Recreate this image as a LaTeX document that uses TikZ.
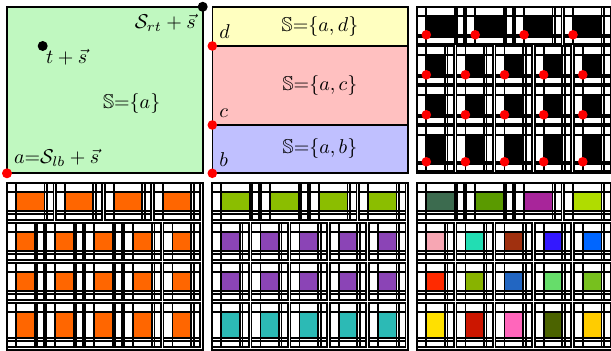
\documentclass[tikz,border=0pt]{standalone}
\usepackage{amssymb}

\definecolor{cellgreen}{HTML}{C0F8C0}
\definecolor{cellyellow}{HTML}{FFFFC0}
\definecolor{cellpink}{HTML}{FFC0C0}
\definecolor{cellblue}{HTML}{C0C0FF}
\definecolor{tangerine}{HTML}{FF6600}
\definecolor{olivelime}{HTML}{8BBE00}
\definecolor{violet}{HTML}{8B44B6}
\definecolor{teal}{HTML}{2CBAB5}
% colours of the last panel, row by row
\definecolor{ta}{HTML}{3C6B4F}\definecolor{tb}{HTML}{5A9A00}
\definecolor{tc}{HTML}{A8259A}\definecolor{td}{HTML}{B0DC00}
\definecolor{ua}{HTML}{F7A6B3}\definecolor{ub}{HTML}{22DDB3}
\definecolor{uc}{HTML}{A0300F}\definecolor{ud}{HTML}{3318FF}
\definecolor{ue}{HTML}{0066FF}
\definecolor{va}{HTML}{FF2A00}\definecolor{vb}{HTML}{88B300}
\definecolor{vc}{HTML}{2266C2}\definecolor{vd}{HTML}{66DD6A}
\definecolor{ve}{HTML}{77C01E}
\definecolor{wa}{HTML}{FFE000}\definecolor{wb}{HTML}{CC1600}
\definecolor{wc}{HTML}{FF66BB}\definecolor{wd}{HTML}{4B6300}
\definecolor{we}{HTML}{FFCC00}

\tikzset{
  gridline/.style={line width=0.9pt},
  frame/.style={line width=0.8pt},
  lbl/.style={font=\normalsize}
}

% one tile: x, y, width, height, fill colour
\newcommand{\gtile}[5]{%
  \fill[#5] ({#1+9},{#2+9}) rectangle ({#1+#3-11.5},{#2+#4-11.5});
  \draw[gridline] ({#1},{#2}) rectangle ({#1+#3-2.5},{#2+#4-2.5})
    ({#1+9},{#2}) -- ++(0,{#4-2.5})
    ({#1+#3-11.5},{#2}) -- ++(0,{#4-2.5})
    ({#1+#3-9},{#2}) -- ++(0,{#4-2.5})
    ({#1},{#2+9}) -- ++({#3-2.5},0)
    ({#1},{#2+#4-11.5}) -- ++({#3-2.5},0)
    ({#1},{#2+#4-9}) -- ++({#3-2.5},0);
}
% a row of tiles: panel x, row y, height, count, colours
\newcommand{\tilerow}[5]{%
  \pgfmathsetmacro\tw{195.6/#4}
  \foreach \c [count=\k from 0] in {#5} {\gtile{#1+\k*\tw}{#2}{\tw}{#3}{\c}}
}
% a whole panel: x, y, colours of rows 1-4
\newcommand{\gridpanel}[6]{%
  \tilerow{#1}{#2}{39.5}{4}{#3}
  \tilerow{#1}{#2+39.5}{40}{5}{#4}
  \tilerow{#1}{#2+79.5}{40}{5}{#5}
  \tilerow{#1}{#2+119.5}{47}{5}{#6}
  \draw[gridline] ({#1},{#2}) rectangle ++(195.6,166.5);
}

\begin{document}
\begin{tikzpicture}[x=0.5pt,y=-0.5pt]
  \useasboundingbox (0,0) rectangle (611,351);

  % first panel
  \filldraw[frame,fill=cellgreen] (7,6.8) rectangle (202.7,173.3);
  \coordinate (rt) at (202.7,6.8);
  \coordinate (t) at (42.7,46);
  \coordinate (a) at (7,173.3);
  \node[lbl,anchor=north east] (rtlabel) at (rt) {$\mathcal{S}_{rt}+\vec{s}$};
  \node[lbl,anchor=north west,inner sep=1.5pt] (tlabel) at (t) {$t+\vec{s}$};
  \node[lbl] (setA) at (131.7,104) {$\mathbb{S}{=}\{a\}$};
  \node[lbl,anchor=south west] (alabel) at (a) {$a{=}\mathcal{S}_{lb}+\vec{s}$};

  % second panel
  \filldraw[frame,fill=cellyellow] (212.3,6.8) rectangle (407.9,46);
  \filldraw[frame,fill=cellpink] (212.3,46) rectangle (407.9,125);
  \filldraw[frame,fill=cellblue] (212.3,125) rectangle (407.9,173.3);
  \coordinate (d) at (212.3,46);
  \coordinate (c) at (212.3,125);
  \coordinate (b) at (212.3,173.3);
  \node[lbl] (setD) at (320,26.4) {$\mathbb{S}{=}\{a,d\}$};
  \node[lbl] (setC) at (320,85.5) {$\mathbb{S}{=}\{a,c\}$};
  \node[lbl] (setB) at (320,149) {$\mathbb{S}{=}\{a,b\}$};
  \node[lbl,anchor=south west] (dlabel) at (d) {$d$};
  \node[lbl,anchor=south west] (clabel) at (c) {$c$};
  \node[lbl,anchor=south west] (blabel) at (b) {$b$};

  % third panel
  \gridpanel{417.3}{6.8}{black,black,black,black}{black,black,black,black,black}
    {black,black,black,black,black}{black,black,black,black,black}
  \foreach \r/\h/\n in {0/39.5/4,39.5/40/5,79.5/40/5,119.5/47/5} {
    \pgfmathsetmacro\tw{195.6/\n}
    \foreach \k in {1,...,\n}
      \fill[red] ({417.3+(\k-1)*\tw+9},{6.8+\r+\h-11.5}) circle[radius=2.4pt];
  }

  % bottom row of panels
  \gridpanel{7}{183.3}{tangerine,tangerine,tangerine,tangerine}
    {tangerine,tangerine,tangerine,tangerine,tangerine}
    {tangerine,tangerine,tangerine,tangerine,tangerine}
    {tangerine,tangerine,tangerine,tangerine,tangerine}
  \gridpanel{212.3}{183.3}{olivelime,olivelime,olivelime,olivelime}
    {violet,violet,violet,violet,violet}
    {violet,violet,violet,violet,violet}
    {teal,teal,teal,teal,teal}
  \gridpanel{417.3}{183.3}{ta,tb,tc,td}{ua,ub,uc,ud,ue}
    {va,vb,vc,vd,ve}{wa,wb,wc,wd,we}

  % points
  \fill (rt) circle[radius=2.5pt];
  \fill (t) circle[radius=2.5pt];
  \fill[red] (a) circle[radius=2.5pt];
  \fill[red] (d) circle[radius=2.4pt];
  \fill[red] (c) circle[radius=2.4pt];
  \fill[red] (b) circle[radius=2.4pt];
\end{tikzpicture}
\end{document}
